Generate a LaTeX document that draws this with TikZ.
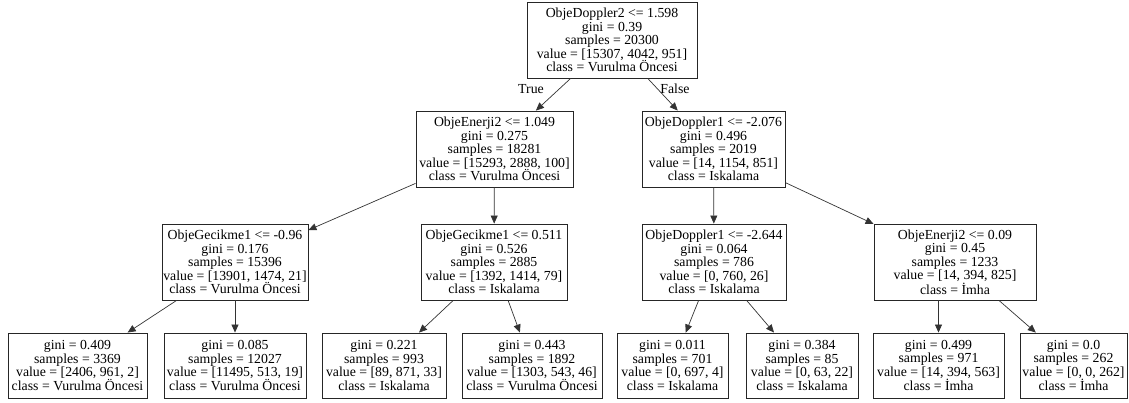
\documentclass[tikz,border=0pt]{standalone}
\usepackage{fontspec}
\setmainfont{Liberation Serif}
\usetikzlibrary{arrows.meta}
\begin{document}
\begin{tikzpicture}[x=1pt,y=-1pt,
  box/.style={draw=black!85, line width=0.9pt, inner sep=0pt, align=center, fill=white,
    font=\fontsize{13.8}{13.4}\selectfont},
  inner/.style={box, minimum height=76pt},
  leaf/.style={box, minimum height=65pt},
  edge/.style={draw=black!80, line width=0.7pt, -{Triangle[length=8pt,width=7pt]}},
  lbl/.style={font=\fontsize{13.8}{13.4}\selectfont, inner sep=0pt}]
\useasboundingbox (0,0) rectangle (1129,403);
% level 0
\node[inner, minimum width=170pt] (root) at (612,40)
  {ObjeDoppler2 <= 1.598\\gini = 0.39\\samples = 20300\\value = [15307, 4042, 951]\\class = Vurulma Öncesi};
% level 1
\node[inner, minimum width=157pt] (n1) at (494.5,149)
  {ObjeEnerji2 <= 1.049\\gini = 0.275\\samples = 18281\\value = [15293, 2888, 100]\\class = Vurulma Öncesi};
\node[inner, minimum width=143pt] (n2) at (713.5,149)
  {ObjeDoppler1 <= -2.076\\gini = 0.496\\samples = 2019\\value = [14, 1154, 851]\\class = Iskalama};
% level 2
\node[inner, minimum width=146pt] (n3) at (235,262)
  {ObjeGecikme1 <= -0.96\\gini = 0.176\\samples = 15396\\value = [13901, 1474, 21]\\class = Vurulma Öncesi};
\node[inner, minimum width=146pt] (n4) at (494,262)
  {ObjeGecikme1 <= 0.511\\gini = 0.526\\samples = 2885\\value = [1392, 1414, 79]\\class = Iskalama};
\node[inner, minimum width=144pt] (n5) at (714,262)
  {ObjeDoppler1 <= -2.644\\gini = 0.064\\samples = 786\\value = [0, 760, 26]\\class = Iskalama};
\node[inner, minimum width=162pt] (n6) at (955,262)
  {ObjeEnerji2 <= 0.09\\gini = 0.45\\samples = 1233\\value = [14, 394, 825]\\class = İmha};
% leaves
\node[leaf, minimum width=139pt] (l1) at (77.5,365.5)
  {gini = 0.409\\samples = 3369\\value = [2406, 961, 2]\\class = Vurulma Öncesi};
\node[leaf, minimum width=142pt] (l2) at (235,365.5)
  {gini = 0.085\\samples = 12027\\value = [11495, 513, 19]\\class = Vurulma Öncesi};
\node[leaf, minimum width=124pt] (l3) at (384,365.5)
  {gini = 0.221\\samples = 993\\value = [89, 871, 33]\\class = Iskalama};
\node[leaf, minimum width=140pt] (l4) at (532,365.5)
  {gini = 0.443\\samples = 1892\\value = [1303, 543, 46]\\class = Vurulma Öncesi};
\node[leaf, minimum width=111pt] (l5) at (672.5,365.5)
  {gini = 0.011\\samples = 701\\value = [0, 697, 4]\\class = Iskalama};
\node[leaf, minimum width=112pt] (l6) at (802,365.5)
  {gini = 0.384\\samples = 85\\value = [0, 63, 22]\\class = Iskalama};
\node[leaf, minimum width=131pt] (l7) at (938.5,365.5)
  {gini = 0.499\\samples = 971\\value = [14, 394, 563]\\class = İmha};
\node[leaf, minimum width=107pt] (l8) at (1073.5,365.5)
  {gini = 0.0\\samples = 262\\value = [0, 0, 262]\\class = İmha};
% edges
\draw[edge] (root) -- (n1);
\draw[edge] (root) -- (n2);
\draw[edge] (n1) -- (n3);
\draw[edge] (n1) -- (n4);
\draw[edge] (n2) -- (n5);
\draw[edge] (n2) -- (n6);
\draw[edge] (n3) -- (l1);
\draw[edge] (n3) -- (l2);
\draw[edge] (n4) -- (l3);
\draw[edge] (n4) -- (l4);
\draw[edge] (n5) -- (l5);
\draw[edge] (n5) -- (l6);
\draw[edge] (n6.south -| l7.north) -- (l7.north);
\draw[edge] (n6) -- (l8);
% edge labels
\node[lbl] (ltrue) at (531,89) {True};
\node[lbl] (lfalse) at (675,89) {False};
\end{tikzpicture}
\end{document}
